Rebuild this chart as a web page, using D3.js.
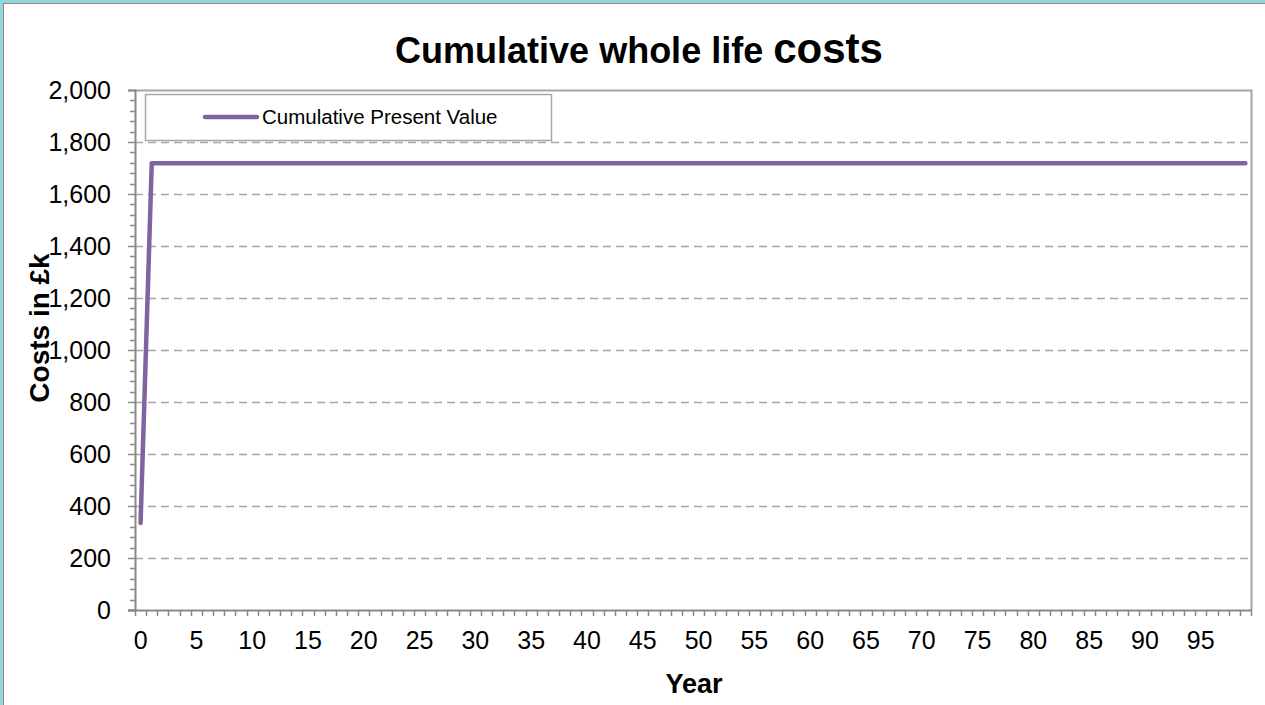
<!DOCTYPE html>
<html><head><meta charset="utf-8">
<script src="https://cdn.jsdelivr.net/npm/d3@7"></script>
<style>
html,body{margin:0;padding:0;background:#fff;}
svg{display:block;font-family:"Liberation Sans",Arial,sans-serif;}
</style></head>
<body>
<svg id="c" width="1265" height="705"></svg>
<script>
const titleMain = "Cumulative whole life ";
const titleBig = "costs";
const yTitle = "Costs in £k";
const xTitle = "Year";
const seriesName = "Cumulative Present Value";
const years = [0,1,2,3,4,5,6,7,8,9,10,11,12,13,14,15,16,17,18,19,20,21,22,23,24,25,26,27,28,29,30,31,32,33,34,35,36,37,38,39,40,41,42,43,44,45,46,47,48,49,50,51,52,53,54,55,56,57,58,59,60,61,62,63,64,65,66,67,68,69,70,71,72,73,74,75,76,77,78,79,80,81,82,83,84,85,86,87,88,89,90,91,92,93,94,95,96,97,98,99];
const values = [335,1718,1718,1718,1718,1718,1718,1718,1718,1718,1718,1718,1718,1718,1718,1718,1718,1718,1718,1718,1718,1718,1718,1718,1718,1718,1718,1718,1718,1718,1718,1718,1718,1718,1718,1718,1718,1718,1718,1718,1718,1718,1718,1718,1718,1718,1718,1718,1718,1718,1718,1718,1718,1718,1718,1718,1718,1718,1718,1718,1718,1718,1718,1718,1718,1718,1718,1718,1718,1718,1718,1718,1718,1718,1718,1718,1718,1718,1718,1718,1718,1718,1718,1718,1718,1718,1718,1718,1718,1718,1718,1718,1718,1718,1718,1718,1718,1718,1718,1718];
const xTickLabels = [0,5,10,15,20,25,30,35,40,45,50,55,60,65,70,75,80,85,90,95];
const yTicks = [0,200,400,600,800,1000,1200,1400,1600,1800,2000];

const svg = d3.select("#c");
// outer frame
svg.append("rect").attr("x",1.5).attr("y",1.5).attr("width",1270).attr("height",710)
  .attr("fill","none").attr("stroke","#93d5d5").attr("stroke-width",3);
svg.append("rect").attr("x",3.5).attr("y",3.5).attr("width",1270).attr("height",710)
  .attr("fill","none").attr("stroke","#8a8a8a").attr("stroke-width",1);

const L=135, R=1251, T=90, B=610;
const x = d3.scaleBand().domain(years).range([L,R]);
const y = d3.scaleLinear().domain([0,2000]).range([B,T]);

// gridlines
svg.append("g").selectAll("line").data(yTicks.filter(d=>d>0 && d<2000)).join("line")
  .attr("x1",L).attr("x2",R).attr("y1",d=>Math.round(y(d))+0.5).attr("y2",d=>Math.round(y(d))+0.5)
  .attr("stroke","#a6a6a6").attr("stroke-width",1.3).attr("stroke-dasharray","8,5");

// plot border top/right
svg.append("path").attr("d",`M${L},${T+0.5}H${R+0.5}V${B}`).attr("fill","none")
  .attr("stroke","#a6a6a6").attr("stroke-width",2);

// y axis
const yAxis = d3.axisLeft(y).tickValues(yTicks).tickSize(7).tickPadding(17).tickFormat(d3.format(","));
const gy = svg.append("g").attr("transform",`translate(${L},0)`).call(yAxis);
gy.select(".domain").attr("stroke","#888").attr("stroke-width",2);
gy.selectAll(".tick line").attr("stroke","#888").attr("stroke-width",1.5);
gy.selectAll(".tick text").attr("font-size",25).attr("fill","#000").attr("font-family","Liberation Sans, Arial, sans-serif");
// minor y ticks
const minor = d3.range(0,2001,40).filter(d=>d%200!==0);
svg.append("g").selectAll("line").data(minor).join("line")
  .attr("x1",L-5).attr("x2",L).attr("y1",d=>Math.round(y(d))+0.5).attr("y2",d=>Math.round(y(d))+0.5)
  .attr("stroke","#888").attr("stroke-width",1.5);

// x axis
svg.append("line").attr("x1",L-7).attr("x2",R+1).attr("y1",B+0.5).attr("y2",B+0.5)
  .attr("stroke","#888").attr("stroke-width",2);
const bounds = years.map(d=>x(d)).concat([R]);
svg.append("g").selectAll("line").data(bounds).join("line")
  .attr("x1",d=>Math.round(d)+0.5).attr("x2",d=>Math.round(d)+0.5).attr("y1",B).attr("y2",B+6)
  .attr("stroke","#888").attr("stroke-width",1.5);
svg.append("g").selectAll("text").data(xTickLabels).join("text")
  .attr("x",d=>x(d)+x.bandwidth()/2).attr("y",649).attr("text-anchor","middle")
  .attr("font-size",25).attr("fill","#000").text(d=>d);

// line
svg.append("path").datum(years.map((d,i)=>[d,values[i]]))
  .attr("d",d3.line().x(d=>x(d[0])+x.bandwidth()/2).y(d=>y(d[1])))
  .attr("fill","none").attr("stroke","#8064a2").attr("stroke-width",4.5)
  .attr("stroke-linecap","round").attr("stroke-linejoin","round");

// legend
svg.append("rect").attr("x",145.5).attr("y",94.5).attr("width",406).attr("height",46)
  .attr("fill","#fff").attr("stroke","#a6a6a6").attr("stroke-width",1.5);
svg.append("line").attr("x1",205).attr("x2",257).attr("y1",117).attr("y2",117)
  .attr("stroke","#8064a2").attr("stroke-width",4.5).attr("stroke-linecap","round");
svg.append("text").attr("x",262).attr("y",124).attr("font-size",20.5).attr("fill","#000").text(seriesName);

// titles
const t = svg.append("text").attr("x",639).attr("y",63).attr("text-anchor","middle")
  .attr("font-weight","bold").attr("fill","#000");
t.append("tspan").attr("font-size",36).text(titleMain);
t.append("tspan").attr("font-size",42).text(titleBig);

svg.append("text").attr("transform","translate(49,328) rotate(-90)").attr("text-anchor","middle")
  .attr("font-size",28).attr("font-weight","bold").attr("fill","#000").text(yTitle);
svg.append("text").attr("x",694).attr("y",693).attr("text-anchor","middle")
  .attr("font-size",27).attr("font-weight","bold").attr("fill","#000").text(xTitle);
</script>
</body></html>
